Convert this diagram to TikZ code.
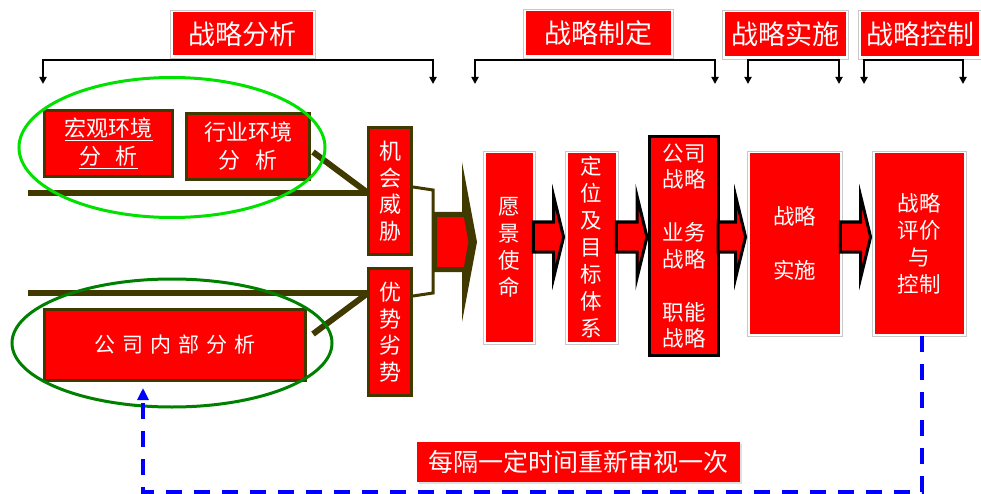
\documentclass[tikz,border=0pt]{standalone}
\usepackage{fontspec}
\setmainfont{Noto Sans CJK SC}
\usetikzlibrary{arrows.meta,calc,shadows,shapes.geometric}
\definecolor{olivedk}{RGB}{64,58,0}
\definecolor{brgreen}{RGB}{0,225,0}
\definecolor{dkgreen}{RGB}{0,128,0}
\definecolor{pptred}{RGB}{255,0,0}
\definecolor{framegray}{RGB}{200,200,200}
\definecolor{fbblue}{RGB}{0,0,255}
\newcommand\redarr[3]{\draw[#3] ($(#1.east |- ay)+(-2,-15)$) -- ($(#2.west |- ay)+(-11,-15)$) -- ($(#2.west |- ay)+(-11,-41)$) -- ($(#2.west |- ay)+(-1,0)$) -- ($(#2.west |- ay)+(-11,41)$) -- ($(#2.west |- ay)+(-11,15)$) -- ($(#1.east |- ay)+(-2,15)$) -- cycle;}
\begin{document}
\begin{tikzpicture}[x=1pt,y=-1pt,
  framed/.style={draw=framegray, line width=0.8pt, fill=white, text=white, inner sep=0pt, align=center,
    path picture={\fill[pptred] ([shift={(2.5pt,-2.5pt)}]path picture bounding box.north west) rectangle ([shift={(-2.5pt,2.5pt)}]path picture bounding box.south east);}},
  titlebox/.style={framed, font=\fontsize{27}{30}\selectfont},
  rtext/.style={framed, font=\fontsize{21.5}{27}\selectfont},
  olivebox/.style={draw=olivedk, line width=3pt, fill=pptred, text=white, inner sep=0pt, align=center},
  bk/.style={draw=black, line width=2pt, {Triangle[width=7pt,length=7pt]}-{Triangle[width=7pt,length=7pt]}},
  ol/.style={draw=olivedk, line width=6pt},
  smarr/.style={draw=black, fill=pptred, line width=3pt},
  fb/.style={draw=fbblue, line width=4pt, dash pattern=on 16pt off 12pt, -{Triangle[width=11pt,length=12pt]}},
]
\useasboundingbox (0,0) rectangle (981,494);

% titles
\node[titlebox, minimum width=145pt, minimum height=48pt] (t1) at (242.5,34) {战略分析};
\node[titlebox, minimum width=150pt, minimum height=49pt] (t2) at (598,33.5) {战略制定};
\node[titlebox, minimum width=126pt, minimum height=49pt] (t3) at (785,34.5) {战略实施};
\node[titlebox, minimum width=123pt, minimum height=49pt] (t4) at (920,34.5) {战略控制};

% brackets
\coordinate (b1a) at (43,60);  \coordinate (b1b) at (433,60);
\coordinate (b2a) at (475,60); \coordinate (b2b) at (715,60);
\coordinate (b3a) at (748,60); \coordinate (b3b) at (839,60);
\coordinate (b4a) at (864,60); \coordinate (b4b) at (963,60);
\draw[bk] ($(b1a)+(0,24)$) -- (b1a) -- (b1b) -- ($(b1b)+(0,24)$);
\draw[bk] ($(b2a)+(0,24)$) -- (b2a) -- (b2b) -- ($(b2b)+(0,24)$);
\draw[bk] ($(b3a)+(0,24)$) -- (b3a) -- (b3b) -- ($(b3b)+(0,24)$);
\draw[bk] ($(b4a)+(0,24)$) -- (b4a) -- (b4b) -- ($(b4b)+(0,24)$);

% olive lines (behind boxes)
\coordinate (l1) at (28,193);
\coordinate (d1) at (313,152);
\coordinate (l2) at (28,293);
\coordinate (d2) at (313,334);
\coordinate (m3w) at (368,193);
\coordinate (m4w) at (368,293);
\draw[ol] (l1) -- (m3w);
\draw[ol] (d1) -- (m3w);
\draw[ol] (l2) -- (m4w);
\draw[ol] (d2) -- (m4w);

% left boxes
\node[olivebox, minimum width=128pt, minimum height=66pt, font=\fontsize{22}{28}\selectfont] (m1) at (108.5,143.5)
  {\underline{宏观环境}\\\underline{分\hspace{15pt}析}};
\node[olivebox, minimum width=123pt, minimum height=66pt, font=\fontsize{22}{28}\selectfont] (m2) at (248,146.5)
  {行业环境\\分\hspace{15pt}析};
\node[olivebox, minimum width=43pt, minimum height=127pt, font=\fontsize{22}{26.5}\selectfont] (m3) at (390,191)
  {机\\会\\威\\胁};
\node[olivebox, minimum width=43pt, minimum height=127pt, font=\fontsize{22}{26.5}\selectfont] (m4) at (390,332)
  {优\\势\\劣\\势};
\node[olivebox, minimum width=261pt, minimum height=71pt, font=\fontsize{21}{26}\selectfont] (m5) at (175,345)
  {公\hspace{7pt}司\hspace{7pt}内\hspace{7pt}部\hspace{7pt}分\hspace{7pt}析};

% thin bracket into block arrow
\coordinate (c1) at (433,190);
\coordinate (c2) at (433,293);
\coordinate (c4) at (433,296);
\draw[draw=olivedk, line width=3pt] ($(m3.east)+(0,-4)$) -- (c1) -- (c2) -- (c4 -| m4.east);

% block arrow
\fill[olivedk] (462,162) -- (477,242) -- (462,322) -- cycle;
\draw[draw=olivedk, fill=pptred, line width=5pt] (434.5,214.5) -- (466,214.5) -- (471,242) -- (466,269.5) -- (434.5,269.5) -- cycle;

% right row boxes
\coordinate (ay) at (0,237);
\node[rtext, minimum width=52pt, minimum height=193pt] (r1) at (509,247.5) {愿\\景\\使\\命};
\node[rtext, minimum width=53pt, minimum height=193pt] (r2) at (591.5,247.5) {定\\位\\及\\目\\标\\体\\系};
\node[draw=black, line width=3pt, fill=pptred, text=white, align=center, inner sep=0pt,
      minimum width=69pt, minimum height=219pt, font=\fontsize{21.5}{26.5}\selectfont] (r3) at (684,246)
  {公司\\战略\\[26.5pt]业务\\战略\\[26.5pt]职能\\战略};
\node[rtext, minimum width=95pt, minimum height=185pt] (r4) at (794.5,243.5) {战略\\[27pt]实施};
\node[rtext, minimum width=94pt, minimum height=185pt] (r5) at (919,243.5) {战略\\评价\\与\\控制};

\redarr{r1}{r2}{smarr}
\redarr{r2}{r3}{smarr}
\redarr{r3}{r4}{smarr}
\redarr{r4}{r5}{smarr}

% ellipses
\node[draw=brgreen, line width=3pt, ellipse, minimum width=306pt, minimum height=140pt, inner sep=0pt] (e1) at (172,147.5) {};
\node[draw=dkgreen, line width=3pt, ellipse, minimum width=320pt, minimum height=128pt, inner sep=0pt] (e2) at (172,343) {};

% bottom label
\node[fill=pptred, text=white, inner sep=0pt, minimum width=323pt, minimum height=40pt,
      font=\fontsize{25}{28}\selectfont,
      drop shadow={shadow xshift=2pt, shadow yshift=-2pt, fill=black!20, opacity=0.6}] (lbl) at (578.5,462)
  {每隔一定时间重新审视一次};

% feedback dashed arrow
\coordinate (fs) at ($(r5.south)+(3,0)$);
\coordinate (fbc) at (143,492);
\draw[fb, shorten >=6pt] (fs) -- (fs |- fbc) -- (fbc) -- (fbc |- m5.south);
\end{tikzpicture}
\end{document}
